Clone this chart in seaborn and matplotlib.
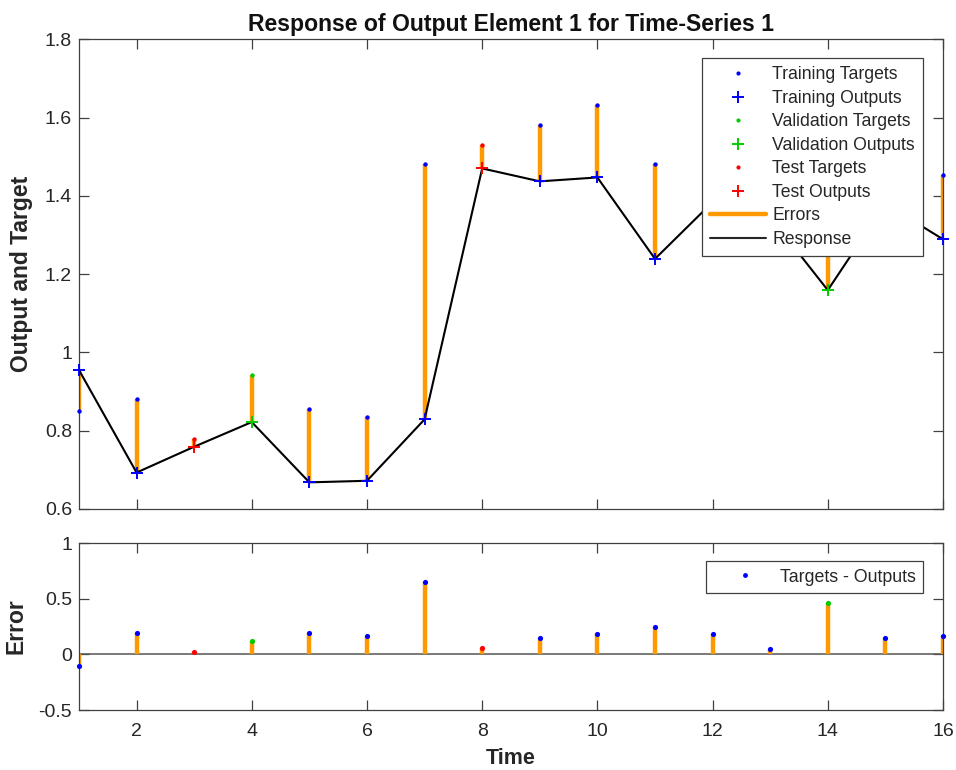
import matplotlib
matplotlib.use("Agg")
import matplotlib.pyplot as plt
from matplotlib.lines import Line2D
from matplotlib.ticker import FuncFormatter
import numpy as np
import pandas as pd
import seaborn as sns

# ---- data ----
time = list(range(1, 17))
targets = [0.851, 0.882, 0.780, 0.941, 0.856, 0.836, 1.482, 1.529,
           1.582, 1.632, 1.482, 1.563, 1.396, 1.623, 1.525, 1.453]
outputs = [0.955, 0.693, 0.759, 0.822, 0.668, 0.672, 0.829, 1.470,
           1.437, 1.447, 1.239, 1.384, 1.346, 1.159, 1.380, 1.289]
sets = ['train', 'train', 'test', 'val', 'train', 'train', 'train', 'test',
        'train', 'train', 'train', 'train', 'train', 'val', 'train', 'train']
top_yticks = [0.6, 0.8, 1.0, 1.2, 1.4, 1.6, 1.8]
bot_yticks = [-0.5, 0, 0.5, 1]
xticks = [2, 4, 6, 8, 10, 12, 14, 16]

df = pd.DataFrame({'time': time, 'target': targets, 'output': outputs, 'set': sets})
df['error'] = df['target'] - df['output']

set_colors = {'train': '#0000FF', 'val': '#00CC00', 'test': '#FF0000'}
ORANGE = '#FF9900'
AXCOL = '#404040'

sns.set_theme(style='white')
plt.rcParams['font.family'] = ['Liberation Sans', 'DejaVu Sans']

fig = plt.figure(figsize=(9.56, 7.7), dpi=100)
ax1 = fig.add_axes([0.0826, 0.339, 0.9038, 0.610])
ax2 = fig.add_axes([0.0826, 0.0779, 0.9038, 0.2169])

# ---- top panel ----
ax1.vlines(df['time'], df['output'], df['target'], color=ORANGE, lw=3.2, zorder=2)
sns.lineplot(data=df, x='time', y='output', ax=ax1, color='black', lw=1.5,
             zorder=3, legend=False)
for s in ['train', 'val', 'test']:
    sub = df[df['set'] == s]
    sns.scatterplot(data=sub, x='time', y='target', ax=ax1, color=set_colors[s],
                    marker='o', s=10, linewidth=0, zorder=4, legend=False, clip_on=False)
    sns.scatterplot(data=sub, x='time', y='output', ax=ax1, color=set_colors[s],
                    marker='+', s=70, linewidth=1.4, zorder=5, legend=False, clip_on=False)

ax1.set_xlim(1, 16)
ax1.set_ylim(0.6, 1.8)
ax1.set_xticks(xticks)
ax1.set_xticklabels([])
ax1.set_yticks(top_yticks)
fmt = FuncFormatter(lambda v, p: ('%g' % round(v, 2)))
ax1.yaxis.set_major_formatter(fmt)
ax1.set_xlabel('')
ax1.set_ylabel('Output and Target', fontsize=16.5, fontweight='bold', color='#262626')
ax1.yaxis.set_label_coords(-0.053, 0.5)
ax1.set_title('Response of Output Element 1 for Time-Series 1', fontsize=16.6,
              fontweight='bold', color='#111111', pad=6)

handles = [
    Line2D([], [], ls='none', marker='o', ms=3, mew=0, color=set_colors['train']),
    Line2D([], [], ls='none', marker='+', ms=9, mew=1.4, color=set_colors['train']),
    Line2D([], [], ls='none', marker='o', ms=3, mew=0, color=set_colors['val']),
    Line2D([], [], ls='none', marker='+', ms=9, mew=1.4, color=set_colors['val']),
    Line2D([], [], ls='none', marker='o', ms=3, mew=0, color=set_colors['test']),
    Line2D([], [], ls='none', marker='+', ms=9, mew=1.4, color=set_colors['test']),
    Line2D([], [], color=ORANGE, lw=3.2),
    Line2D([], [], color='#262626', lw=1.5),
]
labels = ['Training Targets', 'Training Outputs', 'Validation Targets',
          'Validation Outputs', 'Test Targets', 'Test Outputs', 'Errors', 'Response']
leg1 = ax1.legend(handles, labels, loc='upper right', bbox_to_anchor=(0.9765, 0.9596),
                  borderaxespad=0, fontsize=12.7, frameon=True, fancybox=False,
                  framealpha=1, edgecolor=AXCOL, handlelength=3.2, handletextpad=0.35,
                  labelspacing=0.37, borderpad=0.45)
leg1.get_frame().set_linewidth(0.9)
leg1.set_zorder(10)

# ---- bottom panel ----
ax2.axhline(0, color='#555555', lw=1.1, zorder=1)
ax2.vlines(df['time'], 0, df['error'], color=ORANGE, lw=3.2, zorder=2)
for s in ['train', 'val', 'test']:
    sub = df[df['set'] == s]
    sns.scatterplot(data=sub, x='time', y='error', ax=ax2, color=set_colors[s],
                    marker='o', s=14, linewidth=0, zorder=4, legend=False, clip_on=False)
ax2.set_xlim(1, 16)
ax2.set_ylim(-0.5, 1)
ax2.set_xticks(xticks)
ax2.set_yticks(bot_yticks)
ax2.yaxis.set_major_formatter(fmt)
ax2.set_xlabel('Time', fontsize=15.5, fontweight='bold', color='#262626')
ax2.xaxis.set_label_coords(0.5, -0.23)
ax2.set_ylabel('Error', fontsize=16.5, fontweight='bold', color='#262626')
ax2.yaxis.set_label_coords(-0.059, 0.5)
h2 = [Line2D([], [], ls='none', marker='o', ms=3.5, mew=0, color=set_colors['train'])]
leg2 = ax2.legend(h2, ['Targets - Outputs'], loc='upper right',
                  bbox_to_anchor=(0.9765, 0.8895), borderaxespad=0, fontsize=12.8,
                  frameon=True, fancybox=False, framealpha=1, edgecolor=AXCOL,
                  handlelength=3.6, handletextpad=0.15, borderpad=0.4)
leg2.get_frame().set_linewidth(0.9)

for ax in (ax1, ax2):
    for sp in ax.spines.values():
        sp.set_visible(True)
        sp.set_color(AXCOL)
        sp.set_linewidth(0.9)
    ax.tick_params(direction='in', length=7, width=0.9, color=AXCOL,
                   top=True, right=True, bottom=True, left=True,
                   labelsize=14, labelcolor='#262626')
    ax.tick_params(axis='y', pad=5)
ax2.tick_params(axis='x', pad=9)

fig.savefig('out.png', dpi=100, facecolor='white')
